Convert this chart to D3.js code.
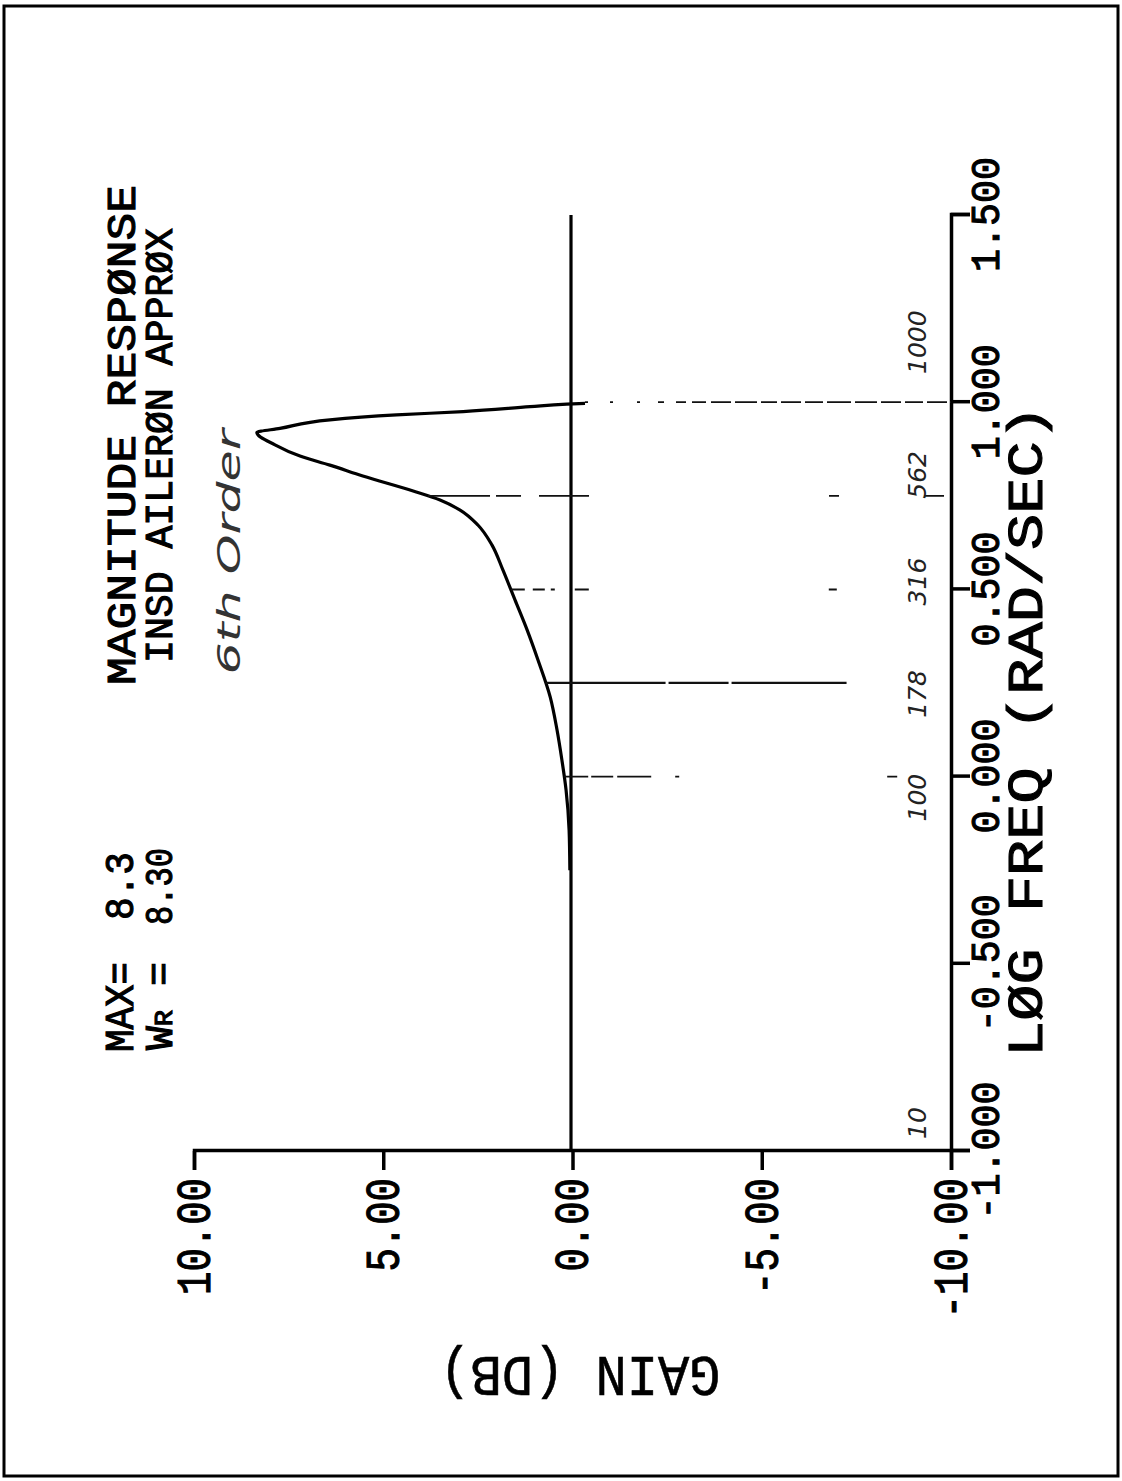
<!DOCTYPE html>
<html>
<head>
<meta charset="utf-8">
<script src="https://cdn.jsdelivr.net/npm/d3@7"></script>
<style>
  html, body { margin: 0; padding: 0; background: #fff; }
  svg { display: block; }
</style>
</head>
<body>
<div id="chart"></div>
<script>
// Magnitude response samples: log10(frequency, rad/sec) and gain (dB)
const logFreq = [-0.25, -0.143, -0.036, 0.044, 0.125, 0.213, 0.311, 0.392, 0.472,
                 0.552, 0.619, 0.672, 0.712, 0.739, 0.763, 0.803, 0.832, 0.856,
                 0.886, 0.919, 0.930, 0.953, 0.966, 0.975, 0.988, 0.995, 0.997];
const gainDb  = [0.03, 0.05, 0.13, 0.24, 0.37, 0.55, 0.87, 1.16, 1.48,
                 1.80, 2.09, 2.46, 2.93, 3.46, 4.17, 5.50, 6.37, 7.16,
                 7.82, 8.30, 7.69, 6.37, 4.61, 2.85, 1.08, 0.11, -0.37];

// Axis ticks
const freqTicks = [-1, -0.5, 0, 0.5, 1, 1.5];
const gainTicks = [10, 5, 0, -5, -10];

// Peak summary
const maxGain = 8.3;
const resonantFreq = 8.30;

// Pencilled frequency notes (x100) and the guide lines drawn at them
const noteFreqs  = [10, 100, 178, 316, 562, 1000];
const guideFreqs = [100, 178, 316, 562, 1000];

// ---------------------------------------------------------------
const W = 1122, H = 1481;
const plotFont = "'Liberation Mono', 'DejaVu Sans Mono', monospace";
const handFont = "'DejaVu Sans', 'Liberation Sans', sans-serif";

const svg = d3.select('#chart').append('svg')
  .attr('width', W).attr('height', H)
  .attr('viewBox', `0 0 ${W} ${H}`);

svg.append('rect').attr('width', W).attr('height', H).attr('fill', '#fff');

// page frame
svg.append('rect')
  .attr('x', 4).attr('y', 6).attr('width', 1114).attr('height', 1470)
  .attr('fill', 'none').attr('stroke', '#000').attr('stroke-width', 3);

// The plot is laid out landscape and turned a quarter turn counter-clockwise
const g = svg.append('g').attr('transform', `translate(0,${H}) rotate(-90)`);

const x = d3.scaleLinear().domain([-1, 1.5]).range([H - 1151, H - 215]);
const y = d3.scaleLinear().domain([-10, 10]).range([951, 194]);

// plotter lettering: monospaced, slightly thickened strokes
function plotText(sel, size, len) {
  sel.attr('font-family', plotFont).attr('font-size', size)
    .attr('fill', '#000').attr('stroke', '#000').attr('stroke-width', 1.1)
    .attr('lengthAdjust', 'spacingAndGlyphs');
  if (len) sel.attr('textLength', len);
  return sel;
}

// frequency axis
const xAxis = g.append('g')
  .attr('transform', `translate(0,${y(-10)})`)
  .call(d3.axisBottom(x).tickValues(freqTicks)
    .tickFormat(d => d.toFixed(3))
    .tickSize(19).tickSizeOuter(19).tickPadding(1));
xAxis.select('.domain').attr('stroke', '#000').attr('stroke-width', 3.5);
xAxis.selectAll('.tick line').attr('stroke', '#000').attr('stroke-width', 3.5);
plotText(xAxis.selectAll('.tick text'), 40)
  .attr('textLength', d => d.toFixed(3).length * 23);

// gain axis
const yAxis = g.append('g')
  .attr('transform', `translate(${x(-1)},0)`)
  .call(d3.axisLeft(y).tickValues(gainTicks)
    .tickFormat(d => d.toFixed(2))
    .tickSize(19).tickSizeOuter(19).tickPadding(8));
yAxis.select('.domain').attr('stroke', '#000').attr('stroke-width', 3.5);
yAxis.selectAll('.tick line').attr('stroke', '#000').attr('stroke-width', 3.5);
plotText(yAxis.selectAll('.tick text'), 48)
  .attr('textLength', d => d.toFixed(2).length * 23.4);

// axis titles
plotText(g.append('text'), 50, 652)
  .attr('x', 424).attr('y', 1042)
  .text('LØG FREQ (RAD/SEC)');

plotText(g.append('text'), 57, 281)
  .attr('transform', `translate(124,580) rotate(-90)`)
  .attr('text-anchor', 'middle')
  .attr('stroke-width', 0.6)
  .text('GAIN (DB)');

// 0 dB reference line
g.append('line')
  .attr('x1', x(-1)).attr('x2', x(1.5))
  .attr('y1', y(0) - 1.5).attr('y2', y(0) - 1.5)
  .attr('stroke', '#000').attr('stroke-width', 3.2);

// response curve
const pts = logFreq.map((f, i) => ({ f, g: gainDb[i] }));
const line = d3.line().x(d => x(d.f)).y(d => y(d.g) - 1.5).curve(d3.curveMonotoneX);
g.append('path').datum(pts)
  .attr('d', line)
  .attr('fill', 'none').attr('stroke', '#000').attr('stroke-width', 3.2)
  .attr('stroke-linejoin', 'round');

// pencilled guides from the curve out to the frequency axis
const gainAt = d3.scaleLinear().domain(logFreq).range(gainDb).clamp(true);
const guideDash = {
  100: '24 3 22 4 34 24 4 208 10 600',
  178: '120 3 60 3 115 600',
  316: '14 8 12 6 4 20 14 240 8 600',
  562: '62 6 25 18 50 240 10 85 20 600',
  1000: '3 22 3 24 3 18 6 12 10 6 14 5 20 4 22 4 16 4 20 4 18 4 24 4 22 4 20 4 18 4 20 3 24 3 40 600'
};
guideFreqs.forEach(v => {
  const f = Math.log10(v / 100);
  g.append('line')
    .attr('x1', x(f)).attr('x2', x(f))
    .attr('y1', y(gainAt(f)) - 1.5).attr('y2', y(-10))
    .attr('stroke', '#111')
    .attr('stroke-width', v === 178 ? 2.2 : 1.8)
    .attr('stroke-dasharray', guideDash[v]);
});

// pencilled frequency notes
const noteNudge = { 10: 28, 100: -21, 178: -11, 316: 8, 562: 21, 1000: 60 };
noteFreqs.forEach(v => {
  g.append('text')
    .attr('x', x(Math.log10(v / 100)) + noteNudge[v])
    .attr('y', 926)
    .attr('text-anchor', 'middle')
    .attr('font-family', handFont).attr('font-style', 'italic')
    .attr('font-weight', 200)
    .attr('font-size', 25).attr('fill', '#222')
    .text(v);
});

g.append('text')
  .attr('x', 929).attr('y', 240)
  .attr('text-anchor', 'middle')
  .attr('font-family', handFont).attr('font-style', 'italic')
  .attr('font-weight', 200)
  .attr('font-size', 32).attr('fill', '#333')
  .attr('textLength', 245).attr('lengthAdjust', 'spacingAndGlyphs')
  .text('6th Order');

// titles
plotText(g.append('text'), 41, 500)
  .attr('x', 796).attr('y', 135)
  .text('MAGNITUDE RESPØNSE');

plotText(g.append('text'), 38, 435)
  .attr('x', 818).attr('y', 172)
  .text('INSD AILERØN APPRØX');

// peak summary
plotText(g.append('text'), 40, 90)
  .attr('x', 429).attr('y', 133)
  .text('MAX=');
plotText(g.append('text'), 40, 68)
  .attr('x', 561).attr('y', 133)
  .text(maxGain.toFixed(1));

const wr = plotText(g.append('text'), 38, 88)
  .attr('x', 431).attr('y', 172);
wr.append('tspan').text('W');
wr.append('tspan').attr('font-size', 26).text('R');
wr.append('tspan').text(' =');
plotText(g.append('text'), 38, 77)
  .attr('x', 556).attr('y', 172)
  .text(resonantFreq.toFixed(2));
</script>
</body>
</html>
